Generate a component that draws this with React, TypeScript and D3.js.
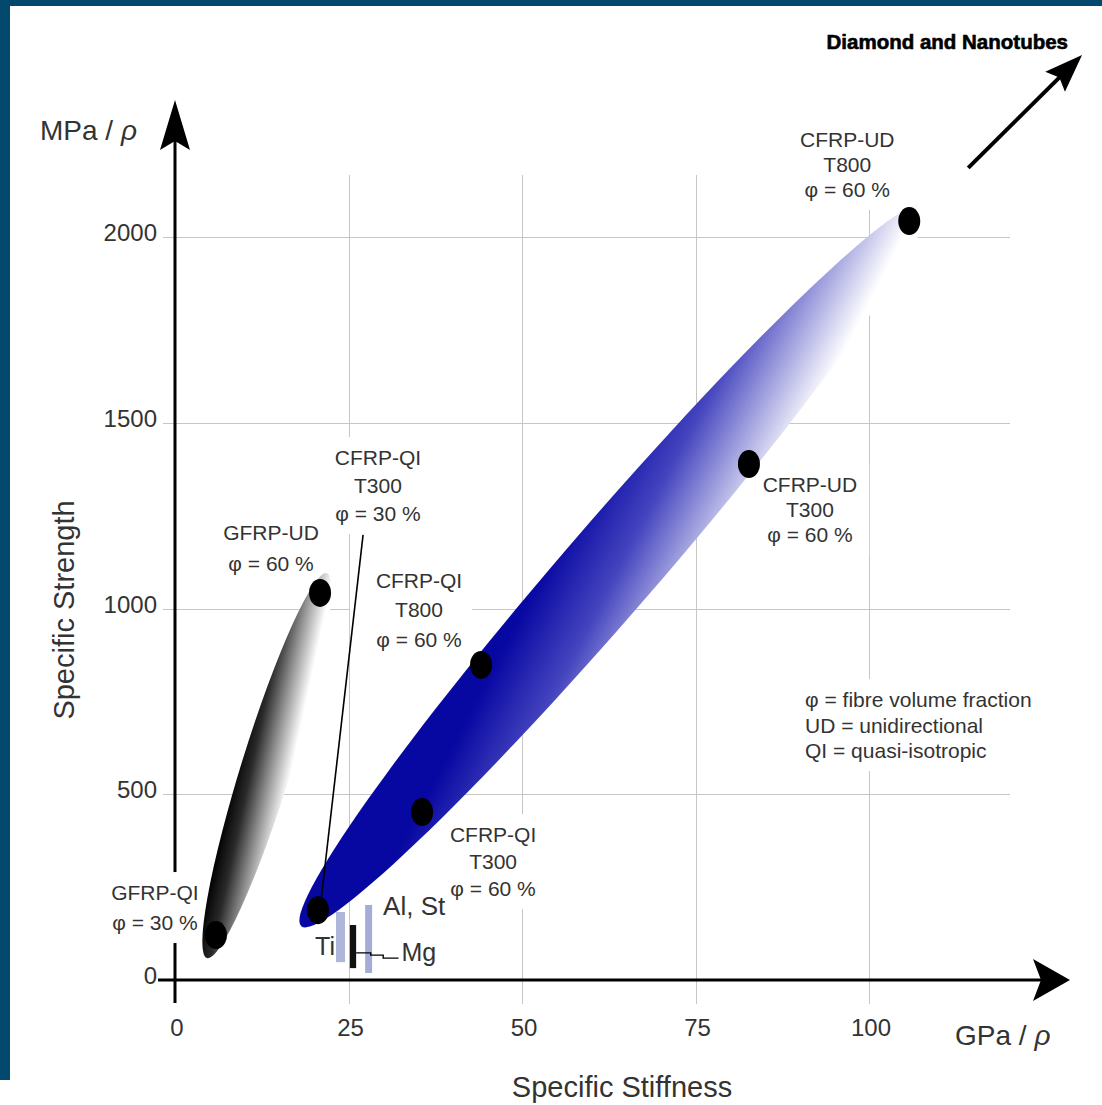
import * as d3 from 'd3';
import React, { useEffect, useRef } from 'react';

// Specific stiffness (GPa/rho) vs specific strength (MPa/rho) of fibre composites and metals

const stiffnessTicks = [0, 25, 50, 75, 100];
const strengthTicks = [0, 500, 1000, 1500, 2000];
const gridStiffness = [25, 50, 75, 100];
const gridStrength = [500, 1000, 1500, 2000];

const materialStiffness = [5.9, 20.9, 20.6, 35.6, 44.1, 82.7, 105.8];
const materialStrength = [121, 1042, 188, 452, 848, 1389, 2043];
const materialLabels = [
  ["GFRP-QI", "φ = 30 %"],
  ["GFRP-UD", "φ = 60 %"],
  ["CFRP-QI", "T300", "φ = 30 %"],
  ["CFRP-QI", "T300", "φ = 60 %"],
  ["CFRP-QI", "T800", "φ = 60 %"],
  ["CFRP-UD", "T300", "φ = 60 %"],
  ["CFRP-UD", "T800", "φ = 60 %"],
];

// tips of the two property bands, [stiffness, strength]
const glassBand = [[4.6, 59], [21.9, 1095]];
const carbonBand = [[18.2, 145], [108, 2085]];

const metalNames = ["Ti", "Mg", "Al, St"];
const metalStiffness = [[23.2, 24.5], [25.2, 26.1], [27.4, 28.4]];
const metalStrength = [[48, 183], [32, 148], [19, 202]];

const legendLines = ["φ = fibre volume fraction", "UD = unidirectional", "QI = quasi-isotropic"];

// leader lines, in data units
const qiT300Leader = [[27.1, 1198], [21.0, 207]];
const mgLeader = [[26.1, 73], [28.2, 73], [28.2, 67], [30, 67], [30, 59], [32.2, 59]];
const diamondArrow = [[114.3, 2186], [130.7, 2490]];

// label placement, px offsets from each dot
const labelLayout = [
  { dx: -61, dy: -35, step: 30, padL: 10, padR: 10 },
  { dx: -49, dy: -53, step: 31, padL: 10, padR: 10 },
  { dx: 60, dy: -445, step: 28, padL: 10, padR: 10 },
  { dx: 71, dy: 30, step: 27, padL: 10, padR: 10 },
  { dx: -62, dy: -77, step: 29.5, padL: 26, padR: 10 },
  { dx: 61, dy: 28, step: 25, padL: 10, padR: 12 },
  { dx: -62, dy: -74, step: 25, padL: 10, padR: 10 },
];

const W = 1102;
const H = 1105;
const FONT = "'Liberation Sans', Arial, Helvetica, sans-serif";
const FRAME = "#03486d";
const TEXT = "#333";

function arrowHead(tx: number, ty: number, ang: number, len: number, half: number, notch: number) {
  const ux = Math.cos(ang), uy = Math.sin(ang);
  const nx = -uy, ny = ux;
  const bx = tx - ux * len, by = ty - uy * len;
  const pts = [
    [tx, ty],
    [bx + nx * half, by + ny * half],
    [tx - ux * (len - notch), ty - uy * (len - notch)],
    [bx - nx * half, by - ny * half],
  ];
  return "M" + pts.map(p => p.join(",")).join("L") + "Z";
}

const App: React.FC = () => {
  const ref = useRef<SVGSVGElement>(null);

  useEffect(() => {
    if (!ref.current) return;
    const svg = d3.select(ref.current);
    svg.selectAll("*").remove();

    const x = d3.scaleLinear().domain([0, 100]).range([175, 869]);
    const y = d3.scaleLinear().domain([0, 2000]).range([980, 237]);

    svg.append("rect").attr("width", W).attr("height", H).attr("fill", "#fff");
    svg.append("rect").attr("width", W).attr("height", 6).attr("fill", FRAME);
    svg.append("rect").attr("width", 10).attr("height", 1080).attr("fill", FRAME);

    const defs = svg.append("defs");

    // gradient in the band's own frame: t = alpha + gamma*along + beta*across
    const bandGradient = (id: string, alpha: number, gamma: number, beta: number, stops: [number, string][]) => {
      const g2 = gamma * gamma + beta * beta;
      const dx = gamma / g2, dy = beta / g2;
      const grad = defs.append("linearGradient").attr("id", id)
        .attr("gradientUnits", "userSpaceOnUse")
        .attr("x1", -alpha * dx).attr("y1", -alpha * dy)
        .attr("x2", (1 - alpha) * dx).attr("y2", (1 - alpha) * dy);
      stops.forEach(([o, c]) => grad.append("stop").attr("offset", o).attr("stop-color", c));
    };
    bandGradient("glassGrad", 0.56, 0.0016, 0.0175, [[0, "#000"], [0.3, "#2a2a2a"], [0.7, "#a5a5a5"], [1, "#fff"]]);
    bandGradient("carbonGrad", 0.36, 0.0014, 0.0058, [[0, "#0707a2"], [0.4, "#4545bf"], [1, "#fff"]]);

    // grid
    const grid = svg.append("g").attr("stroke", "#c6c6c6").attr("stroke-width", 1);
    grid.selectAll(null).data(gridStrength).enter().append("line")
      .attr("x1", 163).attr("x2", 1010)
      .attr("y1", d => Math.round(y(d)) + 0.5).attr("y2", d => Math.round(y(d)) + 0.5);
    grid.selectAll(null).data(gridStiffness).enter().append("line")
      .attr("y1", 175).attr("y2", 1004)
      .attr("x1", d => Math.round(x(d)) + 0.5).attr("x2", d => Math.round(x(d)) + 0.5);

    // axes
    const axes = svg.append("g");
    axes.append("line").attr("x1", x(0)).attr("x2", x(0)).attr("y1", 1003).attr("y2", 130)
      .attr("stroke", "#000").attr("stroke-width", 3);
    axes.append("line").attr("x1", 158).attr("x2", 1045).attr("y1", y(0)).attr("y2", y(0))
      .attr("stroke", "#000").attr("stroke-width", 3);
    axes.append("path").attr("d", arrowHead(x(0), 100, -Math.PI / 2, 50, 15, 9)).attr("fill", "#000");
    axes.append("path").attr("d", arrowHead(1070, y(0), 0, 37, 21, 8)).attr("fill", "#000");

    const ticks = svg.append("g").attr("font-family", FONT).attr("font-size", 24).attr("fill", TEXT);
    ticks.selectAll(null).data(strengthTicks).enter().append("text")
      .attr("x", 157).attr("y", d => y(d) + 4).attr("text-anchor", "end").text(d => d);
    ticks.selectAll(null).data(stiffnessTicks).enter().append("text")
      .attr("x", d => x(d) + 2).attr("y", 1036).attr("text-anchor", "middle").text(d => d);

    const titles = svg.append("g").attr("font-family", FONT).attr("fill", TEXT);
    const mpa = titles.append("text").attr("x", 40).attr("y", 140).attr("font-size", 28);
    mpa.append("tspan").text("MPa / ");
    mpa.append("tspan").attr("font-style", "italic").text("ρ");
    const gpa = titles.append("text").attr("x", 955).attr("y", 1045).attr("font-size", 28);
    gpa.append("tspan").text("GPa / ");
    gpa.append("tspan").attr("font-style", "italic").text("ρ");
    titles.append("text").attr("x", 622).attr("y", 1097).attr("font-size", 29)
      .attr("text-anchor", "middle").text("Specific Stiffness");
    titles.append("text").attr("transform", "translate(74,610) rotate(-90)").attr("font-size", 29)
      .attr("text-anchor", "middle").text("Specific Strength");

    // layers
    const boxes = svg.append("g").attr("fill", "#fff");
    const bands = svg.append("g");
    const metals = svg.append("g");
    const leaders = svg.append("g").attr("fill", "none").attr("stroke", "#000");
    const dots = svg.append("g");
    const labels = svg.append("g").attr("font-family", FONT).attr("font-size", 21).attr("fill", TEXT);

    const drawBand = (tips: number[][], grad: string, half: number) => {
      const [p1, p2] = tips.map(([s, t]) => [x(s), y(t)]);
      const cx = (p1[0] + p2[0]) / 2, cy = (p1[1] + p2[1]) / 2;
      const ang = Math.atan2(p2[1] - p1[1], p2[0] - p1[0]) * 180 / Math.PI;
      const a = Math.hypot(p2[0] - p1[0], p2[1] - p1[1]) / 2;
      bands.append("ellipse")
        .attr("transform", `translate(${cx},${cy}) rotate(${ang})`)
        .attr("rx", a).attr("ry", half).attr("fill", `url(#${grad})`);
    };
    drawBand(glassBand, "glassGrad", 25);
    drawBand(carbonBand, "carbonGrad", 46);

    // metal ranges
    const metalFill = ["#aeb6da", "#111", "#a3acd6"];
    metalNames.forEach((_, i) => {
      const [s0, s1] = metalStiffness[i];
      const [t0, t1] = metalStrength[i];
      metals.append("rect")
        .attr("x", x(s0)).attr("width", x(s1) - x(s0))
        .attr("y", y(t1)).attr("height", y(t0) - y(t1))
        .attr("fill", metalFill[i]);
    });
    const metalText = svg.append("g").attr("font-family", FONT).attr("fill", TEXT);
    metalText.append("text").attr("x", x(metalStiffness[0][0]) - 1).attr("y", 955)
      .attr("text-anchor", "end").attr("font-size", 25).text(metalNames[0]);
    metalText.append("text").attr("x", x(mgLeader[mgLeader.length - 1][0]) + 3).attr("y", 961)
      .attr("font-size", 25).text(metalNames[1]);
    metalText.append("text").attr("x", x(metalStiffness[2][1]) + 11).attr("y", 915)
      .attr("font-size", 26).text(metalNames[2]);

    const line = d3.line<number[]>().x(d => x(d[0])).y(d => y(d[1]));
    leaders.append("path").attr("d", line(qiT300Leader)).attr("stroke-width", 1.6);
    leaders.append("path").attr("d", line(mgLeader)).attr("stroke-width", 1.4);

    // materials
    dots.selectAll(null).data(materialStiffness).enter().append("ellipse")
      .attr("cx", d => x(d)).attr("cy", (_, i) => y(materialStrength[i]))
      .attr("rx", 11).attr("ry", 14).attr("fill", "#000");

    const boxed = (g: d3.Selection<SVGGElement, unknown, null, undefined>, padL: number, padR: number, padY: number) => {
      const bb = (g.node() as SVGGElement).getBBox();
      boxes.append("rect")
        .attr("x", bb.x - padL).attr("y", bb.y - padY)
        .attr("width", bb.width + padL + padR).attr("height", bb.height + 2 * padY);
    };

    materialLabels.forEach((lines, i) => {
      const L = labelLayout[i];
      const px = x(materialStiffness[i]) + L.dx;
      const py = y(materialStrength[i]) + L.dy;
      const g = labels.append("g");
      lines.forEach((t, k) => {
        g.append("text").attr("x", px).attr("y", py + k * L.step)
          .attr("text-anchor", "middle").text(t);
      });
      boxed(g, L.padL, L.padR, 9);
    });

    const legend = labels.append("g");
    legendLines.forEach((t, k) => {
      legend.append("text").attr("x", 805).attr("y", 707 + k * 25.5).text(t);
    });
    boxed(legend, 10, 10, 9);

    // pointer to diamond and nanotubes
    const [a0, a1] = diamondArrow.map(([s, t]) => [x(s), y(t)]);
    const ang = Math.atan2(a1[1] - a0[1], a1[0] - a0[0]);
    svg.append("line")
      .attr("x1", a0[0]).attr("y1", a0[1])
      .attr("x2", a1[0] - Math.cos(ang) * 30).attr("y2", a1[1] - Math.sin(ang) * 30)
      .attr("stroke", "#000").attr("stroke-width", 4);
    svg.append("path").attr("d", arrowHead(a1[0], a1[1], ang, 38, 14, 6)).attr("fill", "#000");
    svg.append("text").attr("x", 1068).attr("y", 49).attr("text-anchor", "end")
      .attr("font-family", FONT).attr("font-weight", "bold").attr("font-size", 20.5)
      .attr("fill", "#000").attr("stroke", "#000").attr("stroke-width", 0.6)
      .text("Diamond and Nanotubes");
  }, []);

  return <svg ref={ref} width={W} height={H} style={{ position: "absolute", left: 0, top: 0, display: "block" }} />;
};

export default App;
